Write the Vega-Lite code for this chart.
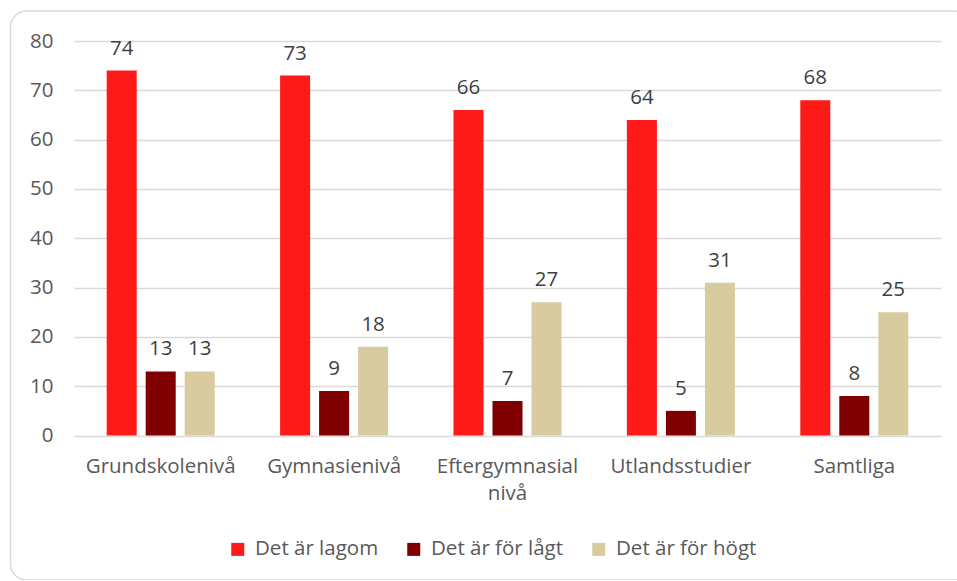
{
  "$schema": "https://vega.github.io/schema/vega-lite/v6.json",
  "autosize": {"type": "none"},
  "padding": {"left": 10.5, "top": 11, "right": 0, "bottom": 0},
  "width": 960,
  "height": 569,
  "background": "white",
  "config": {
    "view": {"stroke": "#d9d9d9", "strokeWidth": 1.5, "cornerRadius": 16},
    "font": "Open Sans"
  },
  "data": {
    "values": [
      {"kategori": "Grundskolenivå", "serie": "Det är lagom", "varde": 74},
      {"kategori": "Grundskolenivå", "serie": "Det är för lågt", "varde": 13},
      {"kategori": "Grundskolenivå", "serie": "Det är för högt", "varde": 13},
      {"kategori": "Gymnasienivå", "serie": "Det är lagom", "varde": 73},
      {"kategori": "Gymnasienivå", "serie": "Det är för lågt", "varde": 9},
      {"kategori": "Gymnasienivå", "serie": "Det är för högt", "varde": 18},
      {"kategori": "Eftergymnasial nivå", "serie": "Det är lagom", "varde": 66},
      {"kategori": "Eftergymnasial nivå", "serie": "Det är för lågt", "varde": 7},
      {"kategori": "Eftergymnasial nivå", "serie": "Det är för högt", "varde": 27},
      {"kategori": "Utlandsstudier", "serie": "Det är lagom", "varde": 64},
      {"kategori": "Utlandsstudier", "serie": "Det är för lågt", "varde": 5},
      {"kategori": "Utlandsstudier", "serie": "Det är för högt", "varde": 31},
      {"kategori": "Samtliga", "serie": "Det är lagom", "varde": 68},
      {"kategori": "Samtliga", "serie": "Det är för lågt", "varde": 8},
      {"kategori": "Samtliga", "serie": "Det är för högt", "varde": 25}
    ]
  },
  "encoding": {
    "x": {
      "field": "kategori", "type": "nominal", "sort": null,
      "scale": {"range": [63.5, 930.5], "paddingInner": 0.377, "paddingOuter": 0.1885},
      "axis": {
        "title": null, "orient": "bottom", "offset": -144.5,
        "domain": false, "ticks": false, "labelAngle": 0,
        "labelFontSize": 20.5, "labelColor": "#595959", "labelPadding": 21,
        "labelLineHeight": 27, "labelBaseline": "top",
        "labelExpr": "datum.label == 'Eftergymnasial nivå' ? ['Eftergymnasial', 'nivå'] : datum.label"
      }
    },
    "xOffset": {
      "field": "serie", "type": "nominal", "sort": ["Det är lagom", "Det är för lågt", "Det är för högt"],
      "scale": {"paddingInner": 0.23, "paddingOuter": 0}
    },
    "y": {
      "field": "varde", "type": "quantitative",
      "scale": {"domain": [0, 80], "range": [424.5, 30], "nice": false},
      "axis": {
        "title": null, "orient": "left", "offset": -63.5,
        "values": [0, 10, 20, 30, 40, 50, 60, 70, 80],
        "domain": false, "ticks": false,
        "grid": true, "gridColor": "#d9d9d9", "gridWidth": 1.3,
        "labelFontSize": 20.5, "labelColor": "#595959", "labelPadding": 21
      }
    }
  },
  "layer": [
    {
      "mark": {"type": "bar"},
      "encoding": {
        "color": {
          "field": "serie", "type": "nominal",
          "sort": ["Det är lagom", "Det är för lågt", "Det är för högt"],
          "scale": {"domain": ["Det är lagom", "Det är för lågt", "Det är för högt"], "range": ["#ff1a1a", "#7f0000", "#d8cba0"]},
          "legend": {
            "title": null, "orient": "none", "direction": "horizontal",
            "legendX": 217, "legendY": 528,
            "symbolType": "square", "symbolSize": 169, "symbolStrokeWidth": 0,
            "labelFontSize": 20.5, "labelColor": "#595959", "labelOffset": 7,
            "columnPadding": 25
          }
        }
      }
    },
    {
      "mark": {"type": "text", "baseline": "bottom", "dy": -12, "fontSize": 20.5, "color": "#404040"},
      "encoding": {
        "text": {"field": "varde", "type": "quantitative"}
      }
    }
  ]
}
